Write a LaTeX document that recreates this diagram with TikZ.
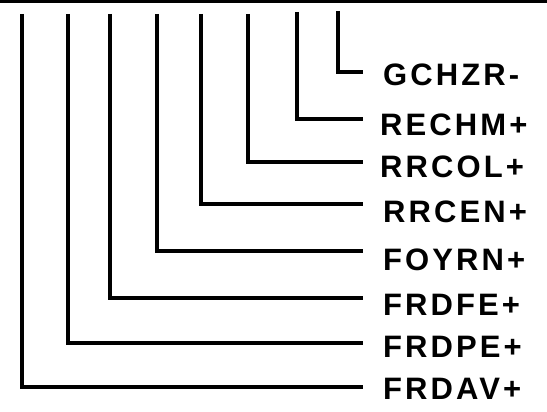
\documentclass[tikz,border=0pt]{standalone}
\usepackage{fontspec}
\setmainfont{Liberation Sans}
\usepackage{tikz}

\begin{document}
\begin{tikzpicture}[
        x=1pt, y=-1pt,
        wire/.style={draw, line width=3.4pt, line join=miter},
        sig/.style={anchor=west, inner sep=0pt, font=\fontsize{31}{33}\selectfont\bfseries\addfontfeature{LetterSpace=10}}
    ]
        \useasboundingbox (0,0) rectangle (547,412);
        % scan edge at the top
        \fill (0,0) rectangle (547,3);

        % Tops of the wires
        \coordinate (top1) at (22,14);
        \coordinate (top2) at (68,14);
        \coordinate (top3) at (110,14);
        \coordinate (top4) at (157,14);
        \coordinate (top5) at (201,14);
        \coordinate (top6) at (248,14);
        \coordinate (top7) at (297,12);
        \coordinate (top8) at (338,11);

        % Ends of the wires
        \coordinate (end1) at (363,387);
        \coordinate (end2) at (363,343);
        \coordinate (end3) at (363,298);
        \coordinate (end4) at (363,251);
        \coordinate (end5) at (363,204);
        \coordinate (end6) at (363,162);
        \coordinate (end7) at (363,119);
        \coordinate (end8) at (363,72);

        % Signal names
        \node [sig] (frdav) at (383,389) {FRDAV+};
        \node [sig] (frdpe) at (383,347) {FRDPE+};
        \node [sig] (frdfe) at (383,305) {FRDFE+};
        \node [sig] (foyrn) at (383,260) {FOYRN+};
        \node [sig] (rrcen) at (383,212) {RRCEN+};
        \node [sig] (rrcol) at (380,167) {RRCOL+};
        \node [sig] (rechm) at (380,125) {RECHM+};
        \node [sig] (gchzr) at (383,75) {GCHZR-};

        % Connections
        \path [wire] (top1) |- (end1);
        \path [wire] (top2) |- (end2);
        \path [wire] (top3) |- (end3);
        \path [wire] (top4) |- (end4);
        \path [wire] (top5) |- (end5);
        \path [wire] (top6) |- (end6);
        \path [wire] (top7) |- (end7);
        \path [wire] (top8) |- (end8);
    \end{tikzpicture}
\end{document}
